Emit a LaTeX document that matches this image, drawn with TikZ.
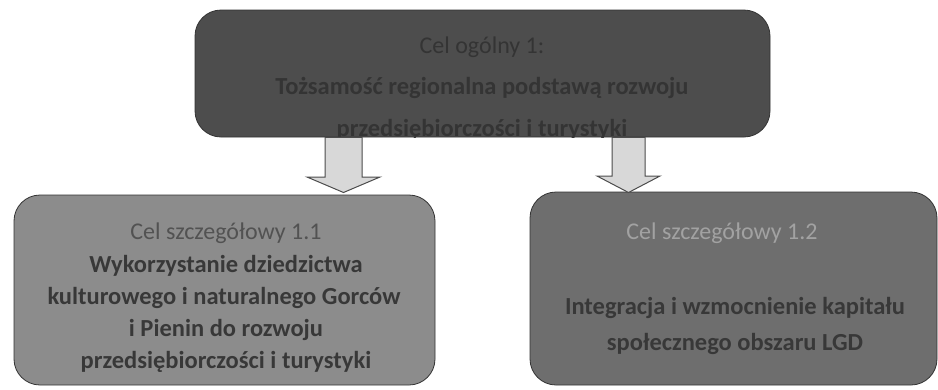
\documentclass[tikz,border=0pt]{standalone}
\usepackage{fontspec}
\setmainfont{Carlito}
\usetikzlibrary{calc}
\definecolor{topfill}{HTML}{4D4D4D}
\definecolor{leftfill}{HTML}{8C8C8C}
\definecolor{rightfill}{HTML}{6E6E6E}
\definecolor{arrowfill}{HTML}{D8D8D8}
\definecolor{darktext}{HTML}{343434}
\definecolor{bodytext}{HTML}{383838}
\definecolor{lefthead}{HTML}{525252}
\definecolor{righthead}{HTML}{A2A2A2}
\tikzset{
  goalbox/.style={draw=black!80, line width=0.8pt, rounded corners=26pt, inner sep=0pt},
  blockarrow/.style={draw=black!70, line width=1pt, fill=arrowfill, line join=miter},
  headtxt/.style={font=\fontsize{24}{28}\selectfont, text=#1, inner sep=0pt, anchor=base},
  boldtxt/.style={font=\fontsize{24.5}{29}\selectfont\bfseries, text=#1, inner sep=0pt, anchor=base},
}
\begin{document}
\begin{tikzpicture}[x=1pt,y=-1pt]
\useasboundingbox (0,0) rectangle (938,389);
% boxes
\node[goalbox, fill=topfill, minimum width=575pt, minimum height=127pt] (top) at (482.5,73.5) {};
\node[goalbox, fill=leftfill, minimum width=421pt, minimum height=190pt] (left) at (224.5,290) {};
\node[goalbox, fill=rightfill, minimum width=407pt, minimum height=193pt] (right) at (733.5,288.5) {};
% top texts, clipped to the box
\begin{scope}
\clip[rounded corners=26pt] (top.north west) rectangle (top.south east);
\node[headtxt=darktext] (t1) at (482,53) {Cel ogólny 1:};
\node[boldtxt=darktext] (t2) at (482,94) {Tożsamość regionalna podstawą rozwoju};
\node[boldtxt=darktext] (t3) at (482,136) {przedsiębiorczości i turystyki};
\end{scope}
% left texts
\node[headtxt=lefthead] (l1) at (226,239) {Cel szczegółowy 1.1};
\node[boldtxt=bodytext] (l2) at (226,272) {Wykorzystanie dziedzictwa};
\node[boldtxt=bodytext] (l3) at (224,304) {kulturowego i naturalnego Gorców};
\node[boldtxt=bodytext] (l4) at (226,336) {i Pienin do rozwoju};
\node[boldtxt=bodytext] (l5) at (226,368) {przedsiębiorczości i turystyki};
% right texts
\node[headtxt=righthead] (r1) at (722,239) {Cel szczegółowy 1.2};
\node[boldtxt=bodytext] (r2) at (735,314) {Integracja i wzmocnienie kapitału};
\node[boldtxt=bodytext] (r3) at (735,350) {społecznego obszaru LGD};
% arrows
\coordinate (a1s) at (top.south -| 343.5,0);
\coordinate (a1e) at (343.5,192.5);
\coordinate (a2s) at (top.south -| 628.5,0);
\coordinate (a2e) at (628.5,192.5);
\draw[blockarrow] ($(a1s)+(-18.5,0)$) -- ($(a1s)+(18.5,0)$) -- ($(a1e)+(18.5,-15.5)$) -- ($(a1e)+(36.5,-15.5)$) -- (a1e) -- ($(a1e)+(-36.5,-15.5)$) -- ($(a1e)+(-18.5,-15.5)$) -- cycle;
\draw[blockarrow] ($(a2s)+(-16.5,0)$) -- ($(a2s)+(16.5,0)$) -- ($(a2e)+(16.5,-16.5)$) -- ($(a2e)+(31.5,-16.5)$) -- (a2e) -- ($(a2e)+(-31.5,-16.5)$) -- ($(a2e)+(-16.5,-16.5)$) -- cycle;
\end{tikzpicture}
\end{document}
